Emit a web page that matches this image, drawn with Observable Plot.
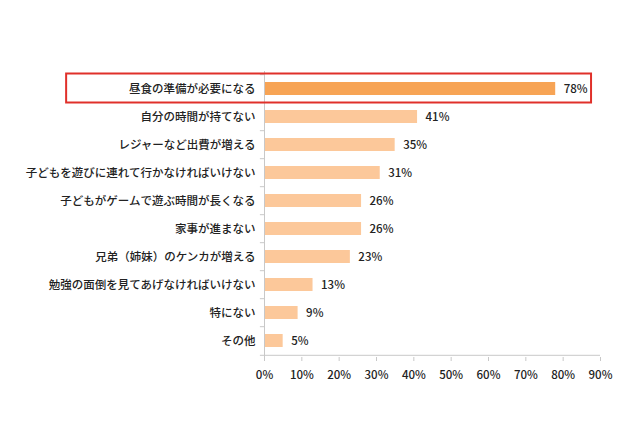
<!DOCTYPE html>
<html><head><meta charset="utf-8">
<script src="https://cdn.jsdelivr.net/npm/d3@7"></script>
<script src="https://cdn.jsdelivr.net/npm/@observablehq/plot@0.6"></script>
<style>
html,body{margin:0;padding:0;background:#fff;}
</style>
</head><body>
<div id="chart"></div>
<script>
const categories = [
  "昼食の準備が必要になる",
  "自分の時間が持てない",
  "レジャーなど出費が増える",
  "子どもを遊びに連れて行かなければいけない",
  "子どもがゲームで遊ぶ時間が長くなる",
  "家事が進まない",
  "兄弟（姉妹）のケンカが増える",
  "勉強の面倒を見てあげなければいけない",
  "特にない",
  "その他"
];
const values = [78, 41, 35, 31, 26, 26, 23, 13, 9, 5];
const xTicks = [0, 10, 20, 30, 40, 50, 60, 70, 80, 90];
const highlight = ["昼食の準備が必要になる"];

const data = categories.map((c, i) => ({cat: c, v: values[i], hi: highlight.includes(c)}));
const font = "'Noto Sans CJK JP', 'Noto Sans', sans-serif";

const plot = Plot.plot({
  width: 640,
  height: 426,
  marginLeft: 264,
  marginRight: 40,
  marginTop: 71,
  marginBottom: 69,
  style: {fontFamily: font, fontSize: "11.5px", fontWeight: 500, color: "#222", background: "#fff"},
  x: {domain: [0, 90], ticks: xTicks, tickFormat: d => d + "%", tickSize: 4, tickPadding: 9, label: null},
  y: {domain: categories, paddingInner: 0.54, paddingOuter: 0.27, align: 0.5, tickSize: 0, tickPadding: 9, label: null},
  marks: [
    Plot.barX(data, {y: "cat", x: "v", fill: d => d.hi ? "#F7A455" : "#FCC89A"}),
    Plot.text(data, {y: "cat", x: "v", text: d => d.v + "%", dx: 8, textAnchor: "start", fill: "#222", fontSize: 11.5}),
    Plot.ruleX([0], {stroke: "#c8c8c8"}),
    Plot.ruleY([categories[categories.length - 1]], {stroke: "#c8c8c8", dy: 14.3, x1: 0, x2: 90}),
    Plot.ruleY(categories, {x1: -1.1, x2: 0, dy: -14.3, stroke: "#c8c8c8"}),
    Plot.ruleY([categories[categories.length - 1]], {x1: -1.1, x2: 0, dy: 14.3, stroke: "#c8c8c8"}),
    Plot.barX(highlight, {y: d => d, x1: -53, x2: 87.6, fill: "none", stroke: "#E0302A", strokeWidth: 2, insetTop: -8.5, insetBottom: -7.5})
  ]
});
plot.querySelectorAll("[aria-label='x-axis tick']").forEach(e => e.setAttribute("stroke", "#c8c8c8"));
document.getElementById("chart").appendChild(plot);
</script>
</body></html>
